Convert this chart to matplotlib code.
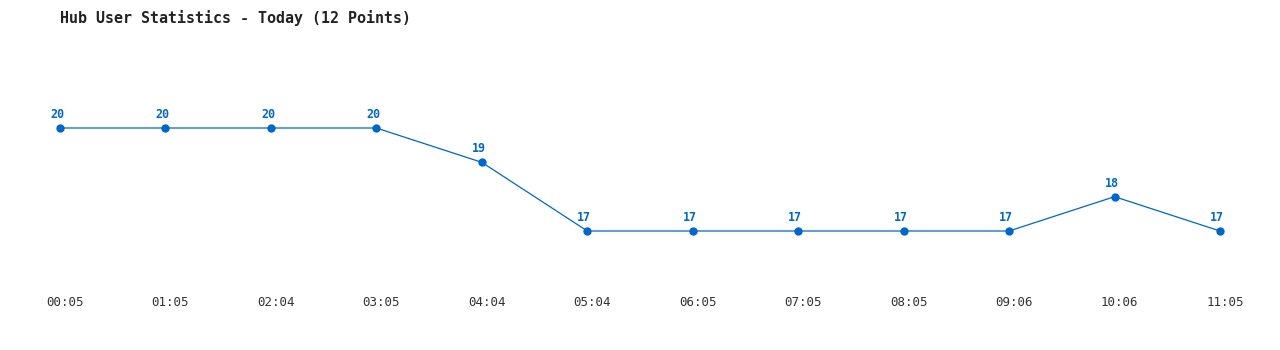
import matplotlib
matplotlib.use("Agg")
import matplotlib.pyplot as plt

times = ["00:05", "01:05", "02:04", "03:05", "04:04", "05:04",
         "06:05", "07:05", "08:05", "09:06", "10:06", "11:05"]
users = [20, 20, 20, 20, 19, 17, 17, 17, 17, 17, 18, 17]
title = "Hub User Statistics - Today (12 Points)"

W, H = 1280, 350
fig = plt.figure(figsize=(W / 100, H / 100), dpi=100)
ax = fig.add_axes([0, 0, 1, 1])
ax.set_axis_off()

step = 1160 / 11
ax.set_xlim(-60 / step, 11 + 60 / step)
ppu = 103 / 3
ax.set_ylim(17 - 119 / ppu, 20 + 128 / ppu)

color = "#0066cc"
xs = list(range(len(users)))
ax.plot(xs, users, color=color, lw=0.9, marker="o", ms=5, zorder=3)
for x, v in zip(xs, users):
    ax.annotate(str(v), (x, v), xytext=(-3, 7), textcoords="offset pixels",
                ha="center", va="bottom", color=color, fontsize=8.4,
                fontweight="bold", family="DejaVu Sans Mono")

trans = ax.get_xaxis_transform()
for x, t in zip(xs, times):
    ax.text(x + 5 / step, 1 - 303 / H, t, transform=trans, ha="center",
            va="center", fontsize=9, color="#333333", family="DejaVu Sans Mono")

fig.text(60 / W, 1 - 18 / H, title, ha="left", va="center", fontsize=10.8,
         fontweight="bold", color="#222222", family="DejaVu Sans Mono")

fig.savefig("out.png", dpi=100, facecolor="white")
